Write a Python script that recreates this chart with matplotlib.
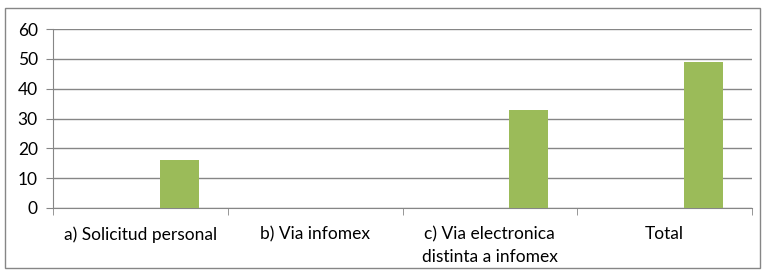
import numpy as np
import matplotlib.pyplot as plt

# data
categories = ["a) Solicitud personal", "b) Via infomex", "c) Via electronica\ndistinta a infomex", "Total"]
values = [16, 0, 33, 49]

plt.rcParams['font.family'] = ['Lato', 'DejaVu Sans']

fig = plt.figure(figsize=(7.63, 2.72), dpi=100)
ax = fig.add_axes([53/763, 1-208/272, 699/763, 179/272])

# border around the whole chart
fig.patches.append(plt.Rectangle((5/763, 4/272), 755/763, 260/272, transform=fig.transFigure,
                                 fill=False, edgecolor='#868686', linewidth=1))

x = np.arange(len(categories))
w = 1/4.5  # three series, gap width 150%
ax.bar(x + w, values, width=w, color='#9BBB59', zorder=3)

ax.set_xlim(-0.5, len(categories)-0.5)
ax.set_ylim(0, 60)
ax.set_yticks(range(0, 61, 10))
ax.yaxis.grid(True, color='#868686', linewidth=1, zorder=0)

ax.set_xticks(x)
ax.set_xticklabels(categories, fontsize=12.5, linespacing=1.5)
ax.set_xticks(np.arange(-0.5, len(categories), 1), minor=True)
ax.tick_params(axis='x', which='major', length=0, pad=13)
ax.tick_params(axis='x', which='minor', length=5, color='#868686')
ax.tick_params(axis='y', length=5, color='#868686', labelsize=12.5, pad=6)

for s in ['top', 'right']:
    ax.spines[s].set_visible(False)
for s in ['left', 'bottom']:
    ax.spines[s].set_color('#868686')

fig.savefig('out.png', dpi=100)
